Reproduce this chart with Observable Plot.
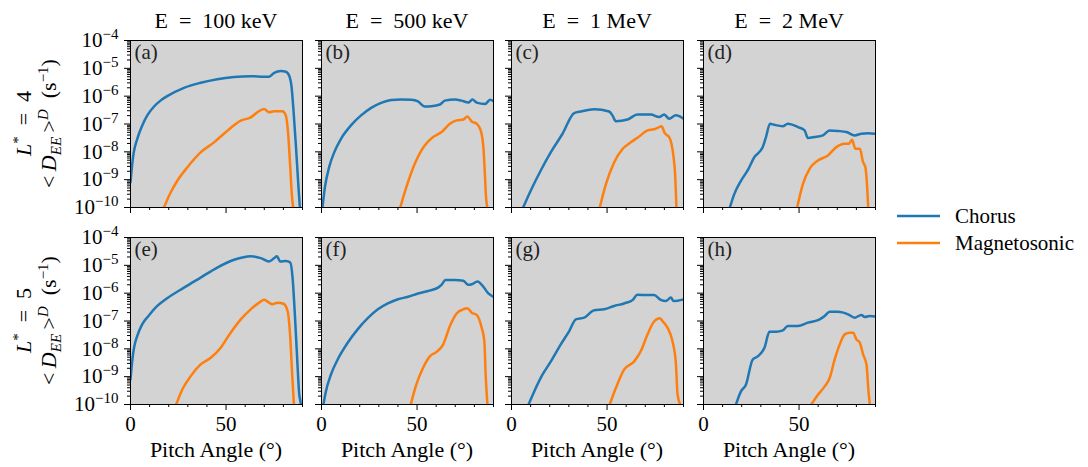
<!DOCTYPE html>
<html>
<head>
<meta charset="utf-8">
<script src="https://cdn.jsdelivr.net/npm/d3@7"></script>
<script src="https://cdn.jsdelivr.net/npm/@observablehq/plot@0.6"></script>
<style>
  body { margin: 0; background: #fff; }
  #fig { position: relative; width: 1088px; height: 467px; overflow: hidden; font-family: "Liberation Serif", serif; }
  #fig svg.panel { position: absolute; }
  #overlay { position: absolute; left: 0; top: 0; pointer-events: none; }
</style>
</head>
<body>
<div id="fig"></div>
<script>
// Column titles (energy) and row labels (L*)
const energies = ["E = 100 keV", "E = 500 keV", "E = 1 MeV", "E = 2 MeV"];
const lShells = ["4", "5"];
const panelLetters = ["(a)", "(b)", "(c)", "(d)", "(e)", "(f)", "(g)", "(h)"];
const seriesNames = ["Chorus", "Magnetosonic"];
const seriesColors = ["#1f77b4", "#ff7f0e"];
const yTickExponents = [-10, -9, -8, -7, -6, -5, -4];
const xMajorTicks = [0, 50];
const xMinorTicks = [10, 20, 30, 40, 60, 70, 80, 90];

// Bounce-averaged energy diffusion coefficients: [pitch angle (deg), log10 <D_EE> (s^-1)]
// L* = 4
const chorusA = [[0,-9.1],[0.9,-8.44],[1.7,-8.02],[3.5,-7.54],[6.1,-7.06],[8.7,-6.7],[12.2,-6.38],[15.7,-6.16],[19.2,-6.0],[28,-5.7],[36.7,-5.52],[45.4,-5.39],[54.2,-5.31],[62.9,-5.28],[69.9,-5.3],[72.5,-5.3],[75.2,-5.16],[78.7,-5.1],[81.3,-5.12],[83,-5.26],[84.3,-5.68],[85.3,-6.52],[86.5,-7.72],[87.9,-9.28],[88.6,-10.0],[89,-10.6]];
const magnetoA = [[17.5,-10.0],[21,-9.46],[24.5,-9.04],[29.7,-8.56],[36.7,-8.02],[43.7,-7.66],[50.7,-7.24],[57.7,-6.88],[62.9,-6.76],[66.4,-6.58],[69.9,-6.46],[72.5,-6.58],[75.2,-6.54],[79.5,-6.54],[81.3,-6.7],[82.5,-7.36],[83.6,-8.56],[84.4,-9.52],[85.1,-10]];
const chorusB = [[0.5,-10],[1.8,-9.27],[4,-8.55],[6.7,-8.01],[10.2,-7.53],[15.4,-7.05],[20.7,-6.69],[26,-6.42],[31.2,-6.24],[36.5,-6.14],[41.7,-6.12],[47,-6.13],[50.5,-6.19],[54,-6.37],[57.5,-6.36],[62,-6.3],[64.5,-6.16],[69.8,-6.12],[73.3,-6.16],[76.8,-6.23],[79,-6.12],[81.2,-6.23],[85.6,-6.28],[88.2,-6.13],[90,-6.18]];
const magnetoB = [[41.2,-10],[44.4,-9.27],[48.8,-8.43],[54,-7.77],[58.4,-7.47],[62.8,-7.29],[67.2,-6.99],[70.7,-6.87],[74.2,-6.84],[76.3,-6.73],[78.6,-6.91],[81.2,-6.99],[83.3,-7.23],[84.7,-7.83],[85.4,-8.67],[86.1,-9.63],[86.7,-10]];
const chorusC = [[6.1,-10],[10.1,-9.39],[15.3,-8.67],[20.6,-8.01],[26.7,-7.35],[32.8,-6.61],[36.3,-6.55],[43.3,-6.47],[51.1,-6.55],[52.8,-6.69],[54.6,-6.9],[60.7,-6.84],[65.9,-6.66],[72.9,-6.66],[77.3,-6.75],[79.9,-6.66],[82.5,-6.81],[86,-6.69],[90,-6.81]];
const magnetoC = [[46.2,-10],[49.4,-9.16],[53.7,-8.38],[58.1,-7.9],[62.4,-7.66],[66.8,-7.45],[71.2,-7.23],[74.6,-7.19],[77.3,-7.11],[78.5,-7.08],[80.2,-7.33],[82.5,-7.47],[84.8,-8.19],[85.6,-8.79],[86.3,-10]];
const chorusD = [[13.8,-10],[16.1,-9.52],[19.6,-9.04],[23.1,-8.67],[26.6,-8.19],[31,-7.83],[32.7,-7.47],[34.8,-6.99],[37.1,-7.03],[41.5,-7.08],[44.1,-6.99],[49.4,-7.11],[52.9,-7.23],[54.6,-7.5],[58.1,-7.47],[62.5,-7.41],[66,-7.23],[70.4,-7.25],[74.8,-7.29],[79.1,-7.41],[82.6,-7.35],[86.2,-7.33],[90,-7.35]];
const magnetoD = [[49,-10],[52,-9.16],[55.5,-8.61],[59.9,-8.31],[65.1,-8.13],[69.5,-7.83],[73.9,-7.71],[76,-7.71],[77.7,-7.57],[79.5,-7.89],[81.8,-7.89],[83.5,-8.37],[84.7,-8.55],[85.4,-9.03],[86.2,-10]];
// L* = 5
const chorusE = [[0,-9.1],[0.9,-8.44],[1.7,-8.02],[3.5,-7.54],[6.1,-7.12],[9.6,-6.8],[14,-6.46],[19.2,-6.18],[28,-5.8],[36.7,-5.44],[45.4,-5.08],[54.2,-4.8],[62.9,-4.67],[68.2,-4.74],[72.5,-4.86],[75.2,-4.74],[76.6,-4.67],[78.3,-4.86],[81.3,-4.84],[83.6,-4.9],[84.8,-5.44],[86,-6.76],[87.1,-8.2],[88.3,-9.64],[89.1,-10],[89.5,-10.5]];
const magnetoE = [[23.9,-10],[27.1,-9.46],[31.5,-8.98],[36.7,-8.56],[42,-8.32],[47.2,-7.96],[52.4,-7.42],[57.7,-6.94],[62.9,-6.58],[67.3,-6.34],[69.9,-6.24],[71.7,-6.3],[74.3,-6.4],[76.9,-6.34],[80.1,-6.38],[82.2,-6.64],[83.6,-7.6],[84.6,-8.92],[85.5,-10]];
const chorusF = [[1,-10],[2.3,-9.53],[4.9,-8.93],[8.4,-8.39],[13.7,-7.78],[18.9,-7.3],[24.2,-6.9],[29.5,-6.58],[34.7,-6.37],[40,-6.22],[45.3,-6.13],[50.5,-6.01],[55.8,-5.92],[61,-5.8],[62.8,-5.7],[64.9,-5.53],[69.8,-5.53],[74.2,-5.55],[76.8,-5.7],[78.6,-5.68],[81.6,-5.58],[84.7,-5.77],[87.3,-6.01],[90,-6.13]];
const magnetoF = [[46.7,-10],[49.6,-9.29],[53.1,-8.69],[56.7,-8.27],[60.2,-8.11],[63.7,-7.84],[67.2,-7.18],[70.7,-6.73],[74.2,-6.58],[76.3,-6.54],[78.6,-6.7],[81.2,-6.78],[83.8,-7.24],[85.2,-7.72],[85.9,-8.93],[86.8,-10]];
const chorusG = [[8.9,-10],[11.9,-9.53],[16.2,-8.93],[20.6,-8.45],[25.8,-7.84],[30.2,-7.36],[33.7,-6.94],[38,-6.88],[43.3,-6.61],[48.5,-6.58],[53.7,-6.46],[58.9,-6.37],[63.3,-6.25],[65.9,-6.06],[71.2,-6.07],[74.6,-6.07],[78.1,-6.24],[80.7,-6.28],[83.4,-6.16],[84.8,-6.28],[90,-6.22]];
const magnetoG = [[51.4,-10],[54.6,-9.41],[58.9,-8.75],[64.2,-8.45],[67.7,-8.08],[71.2,-7.48],[74.6,-7.02],[77.6,-6.9],[79,-7.0],[81.6,-7.24],[84.2,-7.72],[86,-8.51],[86.9,-9.65],[88.3,-10]];
const chorusH = [[17,-10],[19.6,-9.53],[22.2,-9.29],[25.7,-8.39],[28.4,-8.27],[31.9,-7.96],[34.5,-7.39],[38,-7.39],[41.5,-7.34],[44.1,-7.18],[49.4,-7.18],[54.6,-7.06],[60.8,-6.94],[63.4,-6.82],[66,-6.67],[70.4,-6.67],[75.6,-6.76],[79.1,-6.88],[82.6,-6.78],[84.4,-6.86],[87,-6.82],[90,-6.84]];
const magnetoH = [[56.4,-10],[59.9,-9.65],[63.4,-9.35],[66,-9.05],[68.6,-8.39],[71.3,-7.84],[73.9,-7.48],[76.5,-7.42],[78.3,-7.42],[80,-7.66],[81.8,-7.78],[83.5,-8.2],[85.3,-8.57],[86.2,-9.41],[87,-10]];

const chorusPanels = [chorusA, chorusB, chorusC, chorusD, chorusE, chorusF, chorusG, chorusH];
const magnetoPanels = [magnetoA, magnetoB, magnetoC, magnetoD, magnetoE, magnetoF, magnetoG, magnetoH];

// Figure layout (pixels)
const FONT = "Liberation Serif";
const FS = 21;      // tick labels, panel letters, legend
const FT = 22;      // titles and axis labels
const colLeft = [130, 321, 511, 703];
const rowTop = [40, 237];
const PW = 172, PH = 167;
const ML = 75, MR = 12, MT = 12, MB = 60;

const fig = document.getElementById("fig");
const yMinor = [];
for (let k = -10; k < -4; k++) for (let m = 2; m <= 9; m++) yMinor.push(m * Math.pow(10, k));

// Rewrite exponent tick labels as 10 with a raised exponent
function superscriptTicks(svg) {
  svg.querySelectorAll('g[aria-label="y-axis tick label"] text').forEach(t => {
    const e = t.textContent.trim();
    if (!e) return;
    while (t.firstChild) t.removeChild(t.firstChild);
    const ns = "http://www.w3.org/2000/svg";
    const a = document.createElementNS(ns, "tspan");
    a.textContent = "10";
    const b = document.createElementNS(ns, "tspan");
    b.setAttribute("dy", "-8");
    b.setAttribute("font-size", "15");
    b.textContent = "\u2212" + e.replace("-", "").replace("\u2212", "");
    t.appendChild(a); t.appendChild(b);
  });
}

for (let r = 0; r < 2; r++) {
  for (let c = 0; c < 4; c++) {
    const i = r * 4 + c;
    const showY = c === 0, showX = r === 1;
    const toRows = arr => arr.map(([a, l]) => ({angle: a, D: Math.pow(10, l)}));
    const svg = Plot.plot({
      width: PW + ML + MR, height: PH + MT + MB,
      marginLeft: ML, marginRight: MR, marginTop: MT, marginBottom: MB,
      style: {background: "transparent", overflow: "visible", fontFamily: FONT, fontSize: FS + "px", color: "black"},
      x: {domain: [0, 90], label: null},
      y: {type: "log", domain: [1e-10, 1e-4], label: null},
      marks: [
        Plot.frame({fill: "#d3d3d3", stroke: "none"}),
        Plot.line(toRows(chorusPanels[i]), {x: "angle", y: "D", stroke: seriesColors[0], strokeWidth: 2.5, curve: "monotone-x", clip: true}),
        Plot.line(toRows(magnetoPanels[i]), {x: "angle", y: "D", stroke: seriesColors[1], strokeWidth: 2.5, curve: "monotone-x", clip: true}),
        Plot.text([panelLetters[i]], {text: d => d, frameAnchor: "top-left", dx: 4, dy: 4, lineAnchor: "top", fontSize: FS, fill: "#222"}),
        Plot.frame({stroke: "black", strokeWidth: 1}),
        Plot.axisY({ticks: yMinor, tickSize: 3, tickFormat: () => "", label: null}),
        Plot.axisY({ticks: yTickExponents.map(e => Math.pow(10, e)), tickSize: 6, tickPadding: 6,
                    tickFormat: showY ? (d => String(Math.round(Math.log10(d)))) : (() => ""), label: null}),
        Plot.axisX({ticks: xMinorTicks, tickSize: 3, tickFormat: () => "", label: null}),
        Plot.axisX({ticks: xMajorTicks, tickSize: 6, tickPadding: 6, tickFormat: showX ? (d => String(d)) : (() => ""), label: null})
      ]
    });
    svg.classList.add("panel");
    svg.setAttribute("font-family", FONT);
    svg.style.left = (colLeft[c] - ML) + "px";
    svg.style.top = (rowTop[r] - MT) + "px";
    superscriptTicks(svg);
    fig.appendChild(svg);
  }
}

// Titles, row labels, axis labels and legend
const W = 1088, H = 467;
let o = `<svg id="overlay" width="${W}" height="${H}" font-family="${FONT}" font-size="${FT}">`;
energies.forEach((e, c) => {
  o += `<text x="${colLeft[c] + PW / 2}" y="28" text-anchor="middle">${e.replace(" = ", "\u2002=\u2002")}</text>`;
  o += `<text x="${colLeft[c] + PW / 2}" y="457" text-anchor="middle">Pitch Angle (°)</text>`;
});
lShells.forEach((l, r) => {
  const cy = rowTop[r] + PH / 2;
  o += `<text transform="translate(31,${cy}) rotate(-90)" text-anchor="middle"><tspan font-style="italic">L</tspan><tspan font-size="15" dy="-8">*</tspan><tspan dy="8">\u2002=\u2002${l}</tspan></text>`;
  o += `<text transform="translate(56,${cy}) rotate(-90)" text-anchor="middle">&lt;\u2009<tspan font-style="italic">D</tspan><tspan font-style="italic" font-size="15" dy="5">EE</tspan><tspan dy="-5">\u2009&gt;</tspan><tspan font-style="italic" font-size="15" dy="-8">D</tspan><tspan dy="8">\u2002(s</tspan><tspan font-size="15" dy="-8">\u22121</tspan><tspan dy="8">)</tspan></text>`;
});
seriesNames.forEach((n, k) => {
  const y = 216 + k * 27;
  o += `<line x1="897" x2="940" y1="${y}" y2="${y}" stroke="${seriesColors[k]}" stroke-width="2.5"/>`;
  o += `<text x="955" y="${y + 7}" font-size="${FS}">${n}</text>`;
});
o += `</svg>`;
fig.insertAdjacentHTML("beforeend", o);
</script>
</body>
</html>
